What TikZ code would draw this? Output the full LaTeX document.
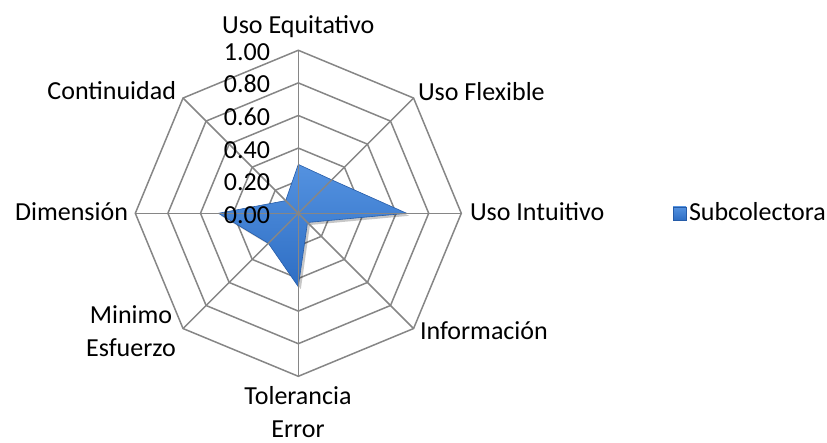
\documentclass[tikz,border=0pt]{standalone}
\usepackage{fontspec}
\setmainfont{Carlito}
\usetikzlibrary{calc}
\definecolor{gridc}{RGB}{134,134,134}
\definecolor{serietop}{RGB}{84,146,224}
\definecolor{seriebot}{RGB}{46,110,196}
\definecolor{serieedge}{RGB}{38,92,168}
\begin{document}
\begin{tikzpicture}[x=1pt,y=1pt,
  font=\fontsize{26}{33}\selectfont,
  lbl/.style={inner sep=0pt, outer sep=0pt},
  tick/.style={lbl, anchor=base east},
  gridline/.style={draw=gridc, line width=1.5pt, line join=miter},
  serie/.style={top color=serietop, bottom color=seriebot, draw=serieedge, line width=0.6pt, line join=miter},
  shadowc/.style={fill=black, opacity=0.22}]
\useasboundingbox (0,0) rectangle (827,443);
\coordinate (c) at (298.3,229.7);
% rings
\foreach \k in {1,...,5} {
  \pgfmathsetmacro{\r}{32.6*\k}
  \draw[gridline, shift={(c)}] (90:\r) -- (45:\r) -- (0:\r) -- (-45:\r) -- (-90:\r) -- (-135:\r) -- (180:\r) -- (135:\r) -- cycle;
}
% series shadow
\fill[shadowc, shift={(c)}, xshift=2.5pt, yshift=-2.5pt]
  (90:48.9) -- (45:47.3) -- (0:108.4) -- (-45:13) -- (-90:73.4) -- (-135:42.4) -- (180:79.9) -- (135:17.9) -- cycle;
% series
\path[serie, shift={(c)}]
  (90:48.9) -- (45:47.3) -- (0:108.4) -- (-45:13) -- (-90:73.4) -- (-135:42.4) -- (180:79.9) -- (135:17.9) -- cycle;
% spokes
\foreach \a in {0,45,...,315} {
  \draw[gridline] (c) -- ($(c)+(\a:163)$);
}
% tick labels
\foreach \k/\t in {0/0.00,1/0.20,2/0.40,3/0.60,4/0.80,5/1.00} {
  \node[tick] (tick\k) at (270,219.7+32.6*\k) {\t};
}
% axis labels
\node[lbl, anchor=base] (equitativo) at (298.3,409) {Uso Equitativo};
\node[lbl, anchor=base west] (flexible) at (418,342) {Uso Flexible};
\node[lbl, anchor=base west] (intuitivo) at (470,222) {Uso Intuitivo};
\node[lbl, anchor=base west] (informacion) at (420,103) {Información};
\node[lbl, anchor=base, align=center] (tolerancia) at (298,5) {Tolerancia\\Error};
\node[lbl, anchor=base, align=center] (minimo) at (131,86) {Minimo\\Esfuerzo};
\node[lbl, anchor=base east] (dimension) at (128,222) {Dimensión};
\node[lbl, anchor=base east] (continuidad) at (176,343) {Continuidad};
% legend
\path[serie] (673,223) rectangle (686,236);
\node[lbl, anchor=base west] (legend) at (689,222) {Subcolectora};
\end{tikzpicture}
\end{document}
